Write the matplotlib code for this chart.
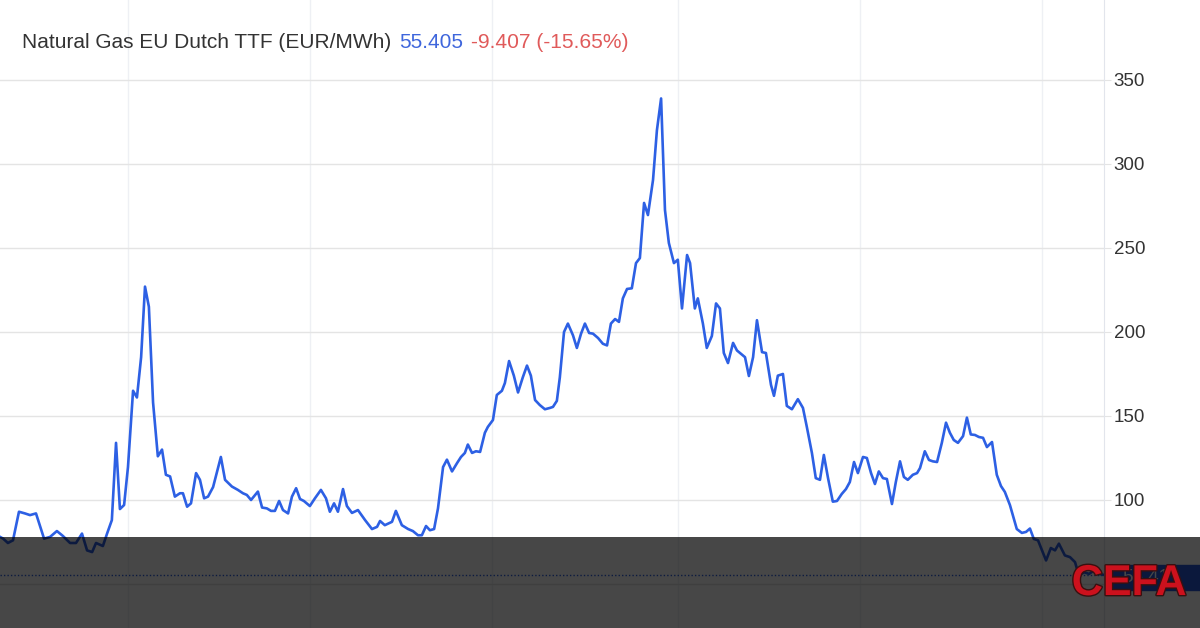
"""
Natural Gas EU Dutch TTF (EUR/MWh) daily close, Jan 2022 - Jan 2023.
Recreated with the CEFA watermark band along the bottom.
"""

import pandas as pd
import matplotlib.pyplot as plt
import matplotlib.dates as mdates
import matplotlib.patheffects as pe
from matplotlib.patches import Rectangle

# days since 2022-01-01
DAYS = [
    16.2, 17.2, 18.8, 20.5, 22.5, 24.5, 26.2, 28.2, 30.9, 32.9, 35.2, 37.2,
    39.6, 41.6, 43.6, 45.3, 47.0, 48.3, 50.6, 52.0, 53.6, 55.0, 56.3, 57.7,
    59.0, 60.7, 62.0, 63.4, 64.7, 66.0, 67.4, 69.0, 70.4, 71.7, 73.1, 74.7,
    76.4, 77.4, 78.8, 80.1, 81.8, 83.1, 84.5, 85.8, 87.5, 90.1, 91.5, 93.8,
    95.8, 97.5, 98.8, 100.2, 102.5, 103.9, 105.5, 106.9, 108.2, 109.6, 110.9,
    112.6, 113.9, 115.3, 116.6, 117.9, 119.9, 121.6, 123.6, 125.3, 126.6,
    128.0, 129.3, 131.0, 132.3, 134.0, 136.0, 138.4, 140.7, 142.4, 143.4,
    145.0, 147.4, 148.7, 150.7, 152.8, 154.4, 156.1, 157.4, 158.8, 160.1,
    161.5, 162.8, 164.5, 165.8, 167.5, 169.2, 170.5, 171.8, 172.8, 174.2,
    175.5, 176.9, 178.5, 179.5, 181.2, 182.5, 184.2, 185.2, 186.6, 188.2,
    189.6, 191.2, 192.6, 193.9, 195.3, 196.9, 198.6, 200.3, 201.3, 202.6,
    203.6, 205.0, 206.3, 208.0, 209.3, 210.7, 212.0, 213.4, 214.7, 216.4,
    218.0, 219.4, 220.7, 222.1, 223.4, 224.7, 226.1, 227.7, 229.1, 230.4,
    231.8, 233.1, 234.8, 236.1, 237.5, 238.8, 240.1, 241.8, 243.1, 244.5,
    246.2, 247.2, 248.8, 249.8, 251.5, 252.8, 254.5, 255.9, 257.2, 258.5,
    259.9, 261.6, 262.9, 263.9, 265.6, 266.9, 268.3, 269.6, 271.3, 272.6,
    274.3, 275.3, 276.6, 278.3, 279.6, 281.3, 283.3, 285.0, 286.3, 288.0,
    289.3, 290.7, 292.0, 293.4, 295.0, 296.4, 298.0, 299.4, 300.7, 302.1,
    303.4, 305.1, 306.4, 307.8, 309.1, 310.4, 311.8, 313.1, 314.8, 316.1,
    317.5, 318.8, 320.1, 321.8, 323.2, 324.2, 325.8, 327.2, 328.5, 329.9,
    331.5, 332.9, 334.2, 335.5, 336.9, 338.6, 339.9, 341.2, 342.6, 343.9,
    345.3, 346.6, 348.3, 349.9, 351.3, 352.6, 354.3, 356.6, 358.3, 359.7,
    361.0, 362.3, 363.7, 366.4, 368.0, 369.4, 370.7, 372.7, 374.4, 376.1,
    377.4, 379.1, 380.8, 382.4, 384.1, 385.8,
]

PRICES = [
    78, 77, 74.4, 76, 93, 92, 91, 92, 77, 78, 81.5, 78.6,
    74.4, 74.4, 80, 70, 69, 74.4, 72.6, 80, 88, 134, 94.6, 97,
    119.6, 165, 161, 185, 227, 215, 158, 126, 130, 115, 114, 102,
    104, 104, 96, 98, 116, 112, 101, 102, 107.7, 125.6, 112, 108,
    106, 104, 103, 100, 105, 95.5, 95, 93.5, 93.5, 99.4, 94,
    92, 102, 107, 100.6, 99.4, 96.4, 101, 106, 101, 93,
    98, 93, 106.5, 96.4, 92.3, 94, 88, 82.7, 84, 87.5,
    85, 87, 93.5, 85, 82.7, 81.5, 79, 79, 84.5, 82,
    82.7, 95, 119.6, 124, 117, 122, 125.6, 128, 133, 128,
    129, 128.6, 140, 143.5, 147.6, 162.5, 165, 169.6, 182.7, 174,
    164, 173, 180, 174, 159.5, 156.5, 154, 154.8, 155.4, 159,
    173, 200, 205, 198, 190.5, 199, 205, 199.4, 199, 196.4,
    193, 192, 205, 207.7, 206, 220, 225.6, 226, 241, 244,
    276.8, 269.6, 290.5, 320, 339, 272.6, 253, 241, 243, 214,
    245.8, 241, 214, 220, 205, 190.5, 197.6, 217, 214, 187.5,
    181.5, 193.5, 189, 187.5, 185, 173.8, 185, 207, 188, 187.5,
    168.5, 162, 174, 175, 156, 154, 160, 154.8, 143.5, 128,
    113, 112, 126.8, 113, 99, 99.4, 103.6, 106.5, 110.7, 122.6,
    116, 125.6, 125, 116, 109.5, 117, 113, 112.5, 97.6, 110.7,
    123, 113.7, 112, 115, 116, 119, 129, 123.8, 123, 122.6,
    134, 146, 140, 135.7, 134, 138, 149, 139, 138.7, 137.5,
    137, 131.5, 134.5, 115, 108.3, 104.8, 97, 82.7, 80.4, 81,
    83, 76.8, 76, 64, 71.4, 70, 74, 67, 66, 63,
    55, 57, 56, 58, 56, 55.4,
]

LAST_PRICE = 55.405
CHANGE = -9.407
CHANGE_PCT = -15.65
Y_TICKS = [100, 150, 200, 250, 300, 350]
Y_HIDDEN_TICKS = [50]   # gridline only, its label sits under the price tag

LINE_BLUE = "#2d60e4"
START = pd.Timestamp("2022-01-01")
dates = START + pd.to_timedelta(DAYS, unit="D")

W, H = 1200, 628
fig = plt.figure(figsize=(W / 100, H / 100), dpi=100)
ax = fig.add_axes([0, 0, 1104 / W, 1])

ax.plot(dates, PRICES, color=LINE_BLUE, linewidth=1.9, solid_joinstyle="round", zorder=3)
ax.axhline(LAST_PRICE, color=LINE_BLUE, linestyle=(0, (1, 1.5)), linewidth=1.0, zorder=2)

ax.set_xlim(START + pd.Timedelta(days=16.15), START + pd.Timedelta(days=385.8))
ax.set_ylim(23.8, 397.6)

ax.xaxis.set_major_locator(mdates.MonthLocator(bymonth=[1, 3, 5, 7, 9, 11]))
ax.xaxis.set_major_formatter(plt.NullFormatter())
ax.tick_params(axis="x", length=0)
ax.grid(axis="x", color="#eef0f4", linewidth=1.0)

ax.yaxis.tick_right()
ax.set_yticks(Y_TICKS)
ax.set_yticks(Y_HIDDEN_TICKS, minor=True)
ax.tick_params(axis="y", which="both", length=5, color="#e4e4e4", pad=2,
               labelsize=13.5, labelcolor="#333333")
for lbl in ax.get_yticklabels():
    lbl.set_fontfamily("Liberation Sans")
ax.grid(axis="y", which="both", color="#e4e4e4", linewidth=1.0)
ax.set_axisbelow(True)

for side in ["top", "left", "bottom"]:
    ax.spines[side].set_visible(False)
ax.spines["right"].set_color("#e2e5ec")
ax.patch.set_alpha(0)

# header
fy = 1 - 42 / H
fig.text(22 / W, fy, "Natural Gas EU Dutch TTF (EUR/MWh)", fontsize=15,
         family="Liberation Sans", color="#333333", va="center")
fig.text(399 / W, fy, f"{LAST_PRICE:.3f}", fontsize=15, family="Liberation Sans",
         color="#3f66dc", va="center")
fig.text(471 / W, fy, f"{CHANGE:.3f} ({CHANGE_PCT:.2f}%)", fontsize=15.1,
         family="Liberation Sans", color="#e05a5a", va="center")

# last price tag on the right axis
fig.add_artist(Rectangle((1106 / W, (H - 590) / H), 94 / W, 25 / H,
                         transform=fig.transFigure, color="#2a58d6", zorder=5))
fig.text(1122 / W, (H - 577) / H, f"{LAST_PRICE:.2f}", fontsize=13.5,
         family="Liberation Sans", color="white", va="center", zorder=6)

# dark watermark band
fig.add_artist(Rectangle((0, 0), 1, (H - 537) / H, transform=fig.transFigure,
                         color="black", alpha=0.72, zorder=10, linewidth=0))
fig.text(1129 / W, (H - 584) / H, "CEFA", fontsize=31, fontweight="bold",
         family=["Liberation Sans Narrow", "Liberation Sans"], color="#cc111d",
         ha="center", va="center", zorder=11,
         path_effects=[pe.withStroke(linewidth=2, foreground="#3a1010")])

plt.savefig("out.png", dpi=100)
